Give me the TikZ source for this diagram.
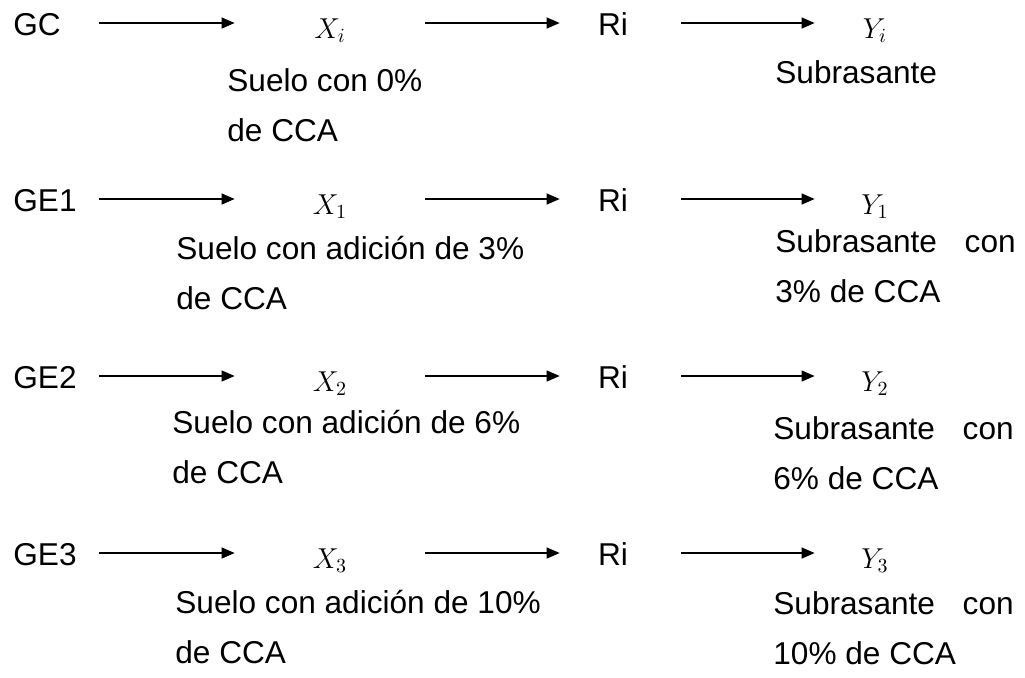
\documentclass[tikz,border=0pt]{standalone}
\usepackage{fontspec}
\setmainfont{Liberation Sans}
\usetikzlibrary{arrows.meta}

\tikzset{
  grupo/.style={anchor=west, text width=42.5pt, align=left, inner sep=0pt, text height=12pt, text depth=0pt},
  var/.style={minimum width=95pt, inner sep=0pt, text height=15pt, text depth=0pt, font=\fontsize{14}{16}\selectfont},
  ri/.style={inner sep=0pt, text height=12pt, text depth=0pt},
  nota/.style={anchor=base west, align=left, inner sep=0pt, font=\fontsize{15.8}{25}\selectfont},
  flecha/.style={-{Triangle[length=6.5pt,width=5.5pt]}, line width=0.6pt},
}

\begin{document}
\begin{tikzpicture}[x=0.5pt, y=-0.5pt, font=\fontsize{15.8}{18}\selectfont]
\useasboundingbox (0,0) rectangle (1025,677);

\draw (13,23)   node (11) [grupo] {GC};
\draw (330,23)  node (12) [var] {$X_i$};
\draw (613,23)  node (13) [ri] {Ri};
\draw (875,23)  node (14) [var, minimum width=60pt] {$Y_i$};
\draw[flecha] (11) -- (12);
\draw[flecha, shorten >=19pt] (12) -- (13);
\draw[flecha, shorten <=26.5pt] (13) -- (14);
\draw (227,141) node (15) [nota] {Suelo con 0\%\\de CCA};
\draw (775,83)  node (16) [nota] {Subrasante};

\draw (13,199)  node (21) [grupo] {GE1};
\draw (330,199) node (22) [var] {$X_1$};
\draw (613,199) node (23) [ri] {Ri};
\draw (875,199) node (24) [var, minimum width=60pt] {$Y_1$};
\draw[flecha] (21) -- (22);
\draw[flecha, shorten >=19pt] (22) -- (23);
\draw[flecha, shorten <=26.5pt] (23) -- (24);
\draw (176,309) node (25) [nota] {Suelo con adición de 3\%\\de CCA};
\draw (775,302) node (26) [nota] {Subrasante\hspace{0.6em} con\\3\% de CCA};

\draw (13,376)  node (31) [grupo] {GE2};
\draw (330,376) node (32) [var] {$X_2$};
\draw (613,376) node (33) [ri] {Ri};
\draw (875,376) node (34) [var, minimum width=60pt] {$Y_2$};
\draw[flecha] (31) -- (32);
\draw[flecha, shorten >=19pt] (32) -- (33);
\draw[flecha, shorten <=26.5pt] (33) -- (34);
\draw (172,483) node (35) [nota] {Suelo con adición de 6\%\\de CCA};
\draw (773,489) node (36) [nota] {Subrasante\hspace{0.6em} con\\6\% de CCA};

\draw (13,553)  node (41) [grupo] {GE3};
\draw (330,553) node (42) [var] {$X_3$};
\draw (613,553) node (43) [ri] {Ri};
\draw (875,553) node (44) [var, minimum width=60pt] {$Y_3$};
\draw[flecha] (41) -- (42);
\draw[flecha, shorten >=19pt] (42) -- (43);
\draw[flecha, shorten <=26.5pt] (43) -- (44);
\draw (175,663) node (45) [nota] {Suelo con adición de 10\%\\de CCA};
\draw (773,664) node (46) [nota] {Subrasante\hspace{0.6em} con\\10\% de CCA};

\end{tikzpicture}
\end{document}
